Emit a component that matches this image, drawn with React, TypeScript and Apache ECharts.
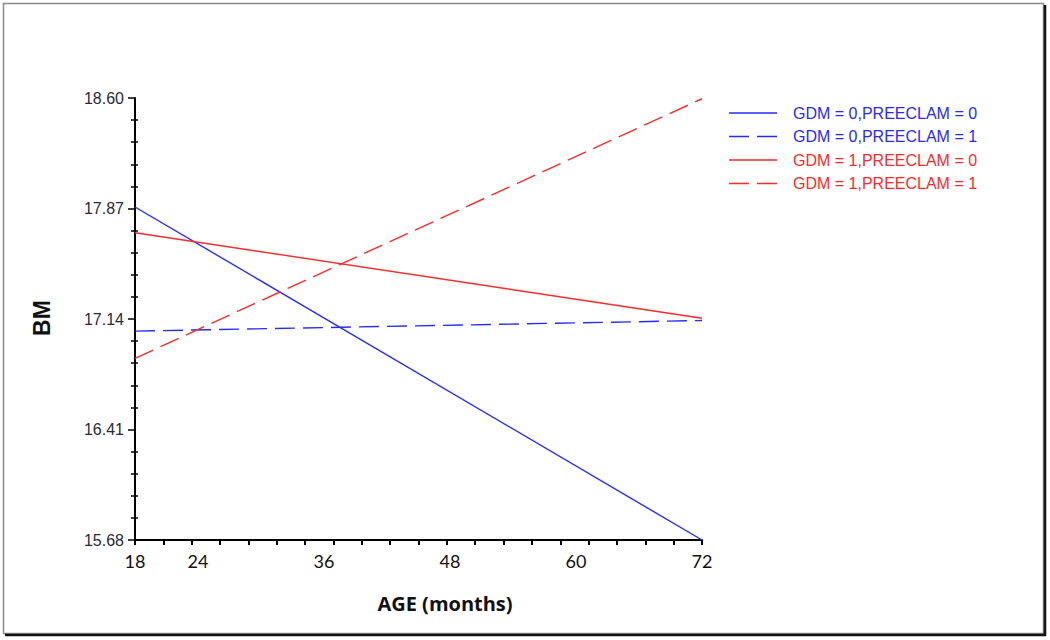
import React, { useEffect, useRef } from "react";
import * as echarts from "echarts";

const ages = [18, 72];
const seriesNames = [
  "GDM = 0,PREECLAM = 0",
  "GDM = 0,PREECLAM = 1",
  "GDM = 1,PREECLAM = 0",
  "GDM = 1,PREECLAM = 1",
];
const g0p0 = [17.88, 15.68];
const g0p1 = [17.06, 17.13];
const g1p0 = [17.71, 17.145];
const g1p1 = [16.88, 18.595];

const xLabelValues = [18, 24, 36, 48, 60, 72];
const xTickValues = [
  18, 20.7, 23.4, 26.1, 28.8, 31.5, 34.2, 36.9, 39.6, 42.3, 45, 47.7, 50.4,
  53.1, 55.8, 58.5, 61.2, 63.9, 66.6, 69.3, 72,
];
const yLabelValues = [15.68, 16.41, 17.14, 17.87, 18.6];
const yMinorValues = [
  15.826, 15.972, 16.118, 16.264, 16.556, 16.702, 16.848, 16.994, 17.286,
  17.432, 17.578, 17.724, 18.016, 18.162, 18.308, 18.454,
];

const BLUE = "#2a2aff";
const RED = "#ff2a2a";
const SOLID_ICON = "path://M0,0H48V1.4H0Z";
const DASH_ICON = "path://M0,0H20V1.4H0Z M28,0H48V1.4H28Z";

export default function App() {
  const ref = useRef<HTMLDivElement>(null);
  useEffect(() => {
    if (!ref.current) return;
    const chart = echarts.init(ref.current, null, { renderer: "svg" });
    const values = [g0p0, g0p1, g1p0, g1p1];
    const colors = [BLUE, BLUE, RED, RED];
    const dashed = [false, true, false, true];
    const series = values.map((v, i) => ({
      name: seriesNames[i],
      type: "line",
      xAxisIndex: 0,
      yAxisIndex: 0,
      data: ages.map((a, j) => [a, v[j]]),
      symbol: "none",
      showSymbol: false,
      color: colors[i],
      lineStyle: {
        color: colors[i],
        width: 1.4,
        type: dashed[i] ? [20, 8] : "solid",
      },
    }));
    const baseY = {
      type: "value",
      min: 15.68,
      max: 18.6,
      position: "left",
      splitLine: { show: false },
    };
    chart.setOption({
      animation: false,
      backgroundColor: "#ffffff",
      grid: { left: 135, right: 348, top: 98, bottom: 100, containLabel: false },
      xAxis: {
        type: "value",
        min: 18,
        max: 72,
        splitLine: { show: false },
        axisLine: { show: true, lineStyle: { color: "#000", width: 2 } },
        axisTick: {
          show: true,
          customValues: xTickValues,
          length: 5,
          lineStyle: { color: "#000", width: 2 },
        },
        axisLabel: {
          customValues: xLabelValues,
          margin: 12,
          fontFamily: "Lato",
          fontSize: 18,
          color: "#111",
        },
      },
      yAxis: [
        {
          ...baseY,
          axisLine: { show: true, lineStyle: { color: "#000", width: 2 } },
          axisTick: {
            show: true,
            customValues: yLabelValues,
            length: 7,
            lineStyle: { color: "#000", width: 1.5 },
          },
          axisLabel: {
            customValues: yLabelValues,
            formatter: (v: number) => v.toFixed(2),
            margin: 11,
            fontFamily: "Liberation Sans",
            fontSize: 16,
            color: "#2a2a3a",
          },
        },
        {
          ...baseY,
          axisLine: { show: false },
          axisTick: {
            show: true,
            customValues: yMinorValues,
            length: 4,
            lineStyle: { color: "#000", width: 1.5 },
          },
          axisLabel: { show: false },
        },
        {
          ...baseY,
          axisLine: { show: false },
          axisTick: {
            show: true,
            inside: true,
            customValues: yMinorValues,
            length: 3,
            lineStyle: { color: "#000", width: 1.5 },
          },
          axisLabel: { show: false },
        },
      ],
      legend: {
        orient: "vertical",
        left: 729,
        top: 105,
        padding: 0,
        itemWidth: 48,
        itemHeight: 16,
        itemGap: 7.5,
        data: seriesNames.map((n, i) => ({
          name: n,
          icon: dashed[i] ? DASH_ICON : SOLID_ICON,
          textStyle: { color: colors[i] },
        })),
        textStyle: {
          fontFamily: "Liberation Sans",
          fontSize: 16,
          padding: [0, 0, 0, 11],
        },
      },
      graphic: [
        {
          type: "rect",
          shape: { x: 3.5, y: 3.5, width: 1040, height: 630 },
          style: { fill: "none", stroke: "#8a8a8a", lineWidth: 1.5 },
        },
        {
          type: "line",
          shape: { x1: 1045, y1: 5, x2: 1045, y2: 636 },
          style: { stroke: "#111", lineWidth: 2.5 },
        },
        {
          type: "line",
          shape: { x1: 5, y1: 635, x2: 1046, y2: 635 },
          style: { stroke: "#111", lineWidth: 2.5 },
        },
        {
          type: "text",
          x: 445,
          y: 603,
          style: {
            text: "AGE (months)",
            fontFamily: "Open Sans",
            fontWeight: "bold",
            fontSize: 20,
            fill: "#111",
            align: "center",
            verticalAlign: "middle",
          },
        },
        {
          type: "text",
          x: 42,
          y: 318,
          rotation: Math.PI / 2,
          style: {
            text: "BM",
            fontFamily: "Liberation Sans",
            fontWeight: "bold",
            fontSize: 23,
            fill: "#111",
            align: "center",
            verticalAlign: "middle",
          },
        },
      ],
      series,
    });
    return () => chart.dispose();
  }, []);
  return (
    <div
      ref={ref}
      style={{ position: "fixed", left: 0, top: 0, width: 1050, height: 640 }}
    />
  );
}
